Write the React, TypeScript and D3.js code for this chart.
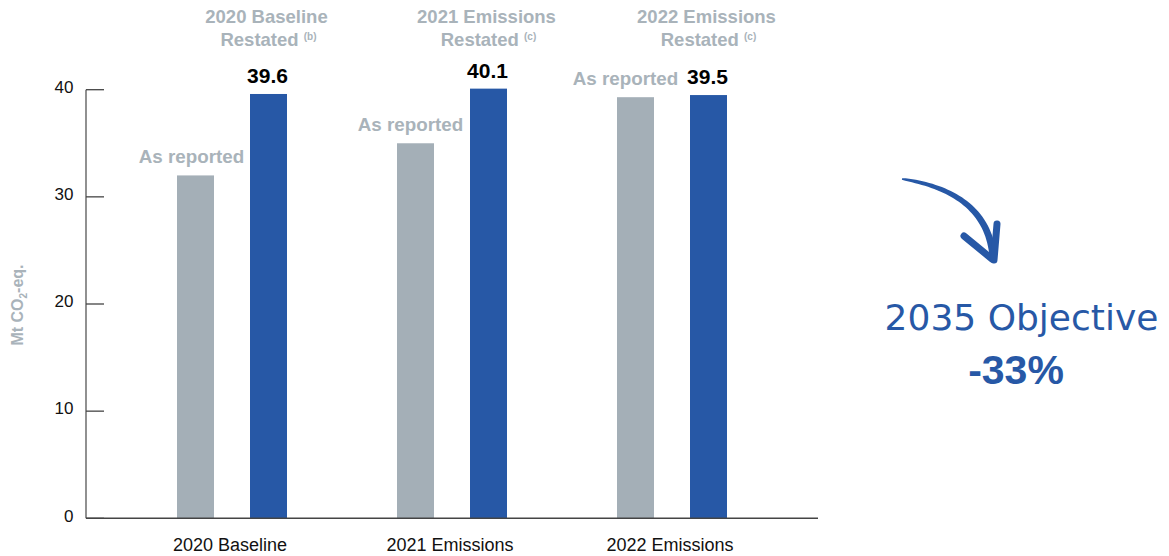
import React from "react";
import * as d3 from "d3";

const categories = ["2020 Baseline", "2021 Emissions", "2022 Emissions"];
const asReported = [32.0, 35.0, 39.3];
const restated = [39.6, 40.1, 39.5];
const headerLine1 = ["2020 Baseline", "2021 Emissions", "2022 Emissions"];
const headerNotes = ["(b)", "(c)", "(c)"];
const yTicks = [0, 10, 20, 30, 40];
const reportedLabel = "As reported";
const objectiveTitle = "2035 Objective";
const objectiveValue = "-33%";

const W = 1169;
const H = 556;
const GRAY = "#a4afb7";
const BLUE = "#2758a6";
const LABEL_GRAY = "#a9b3ba";
const FONT = "'Liberation Sans', Arial, sans-serif";
const labelNudge = [-4, -5, -10];

export default function App() {
  const y = d3.scaleLinear().domain([0, 40]).range([518.3, 89.7]);
  const x = d3.scaleBand<string>().domain(categories).range([122, 782]);
  const barW = 37;
  const off = 36.5;
  const axisX = 86;

  // arrow shaft as tapered shape
  const p0: [number, number] = [902, 179];
  const c1: [number, number] = [948, 186];
  const c2: [number, number] = [988, 206];
  const p3: [number, number] = [993, 256];
  const bez = (t: number) => {
    const mt = 1 - t;
    const px = mt * mt * mt * p0[0] + 3 * mt * mt * t * c1[0] + 3 * mt * t * t * c2[0] + t * t * t * p3[0];
    const py = mt * mt * mt * p0[1] + 3 * mt * mt * t * c1[1] + 3 * mt * t * t * c2[1] + t * t * t * p3[1];
    return [px, py];
  };
  const N = 40;
  const left: [number, number][] = [];
  const right: [number, number][] = [];
  for (let i = 0; i <= N; i++) {
    const t = i / N;
    const [px, py] = bez(t);
    const [ax, ay] = bez(Math.max(0, t - 0.01));
    const [bx, by] = bez(Math.min(1, t + 0.01));
    let dx = bx - ax, dy = by - ay;
    const len = Math.hypot(dx, dy) || 1;
    dx /= len; dy /= len;
    const w = 0.8 + 2.8 * Math.sqrt(t);
    left.push([px - dy * w, py + dx * w]);
    right.push([px + dy * w, py - dx * w]);
  }
  const shaft = d3.line()([...left, ...right.reverse()]) + "Z";

  return (
    <svg width={W} height={H} style={{ display: "block", position: "absolute", left: 0, top: 0 }}>
      <rect width={W} height={H} fill="#fff" />
      {/* y axis */}
      <line x1={axisX} x2={axisX} y1={y(40)} y2={y(0)} stroke="#555" strokeWidth={1.3} />
      {yTicks.map((t) => (
        <g key={t}>
          <line x1={axisX} x2={104} y1={y(t)} y2={y(t)} stroke="#444" strokeWidth={1.3} />
          <text x={73.5} y={y(t) + 3.2} textAnchor="end" fontFamily={FONT} fontSize={17} fill="#111">
            {t}
          </text>
        </g>
      ))}
      <text
        transform={`translate(23,305) rotate(-90)`}
        textAnchor="middle"
        fontFamily={FONT}
        fontSize={16}
        fontWeight="bold"
        fill={LABEL_GRAY}
      >
        Mt CO<tspan fontSize={10} dy={4}>2</tspan>
        <tspan dy={-4}>-eq.</tspan>
      </text>

      {/* bars */}
      {categories.map((c, i) => {
        const cx = (x(c) as number) + x.bandwidth() / 2;
        const gx = cx - off;
        const bx = cx + off;
        return (
          <g key={c}>
            <rect x={gx - barW / 2} y={y(asReported[i])} width={barW} height={y(0) - y(asReported[i])} fill={GRAY} />
            <rect x={bx - barW / 2} y={y(restated[i])} width={barW} height={y(0) - y(restated[i])} fill={BLUE} />
            <text
              x={gx + labelNudge[i]}
              y={y(asReported[i]) - 12.5}
              textAnchor="middle"
              fontFamily={FONT}
              fontSize={18.8}
              fontWeight="bold"
              fill={LABEL_GRAY}
            >
              {reportedLabel}
            </text>
            <text
              x={bx - 1}
              y={y(restated[i]) - 11}
              textAnchor="middle"
              fontFamily={FONT}
              fontSize={21}
              fontWeight="bold"
              fill="#000"
            >
              {restated[i].toFixed(1)}
            </text>
            <text x={bx - 2} y={23} textAnchor="middle" fontFamily={FONT} fontSize={18.5} fontWeight="bold" fill={LABEL_GRAY}>
              {headerLine1[i]}
            </text>
            <text x={bx} y={45.5} textAnchor="middle" fontFamily={FONT} fontSize={18.5} fontWeight="bold" fill={LABEL_GRAY}>
              {"Restated "}
              <tspan fontSize={10} dy={-6}>
                {headerNotes[i]}
              </tspan>
            </text>
            <text x={cx - 2} y={551} textAnchor="middle" fontFamily={FONT} fontSize={18} fill="#111">
              {c}
            </text>
          </g>
        );
      })}

      {/* x axis */}
      <line x1={axisX} x2={818} y1={y(0)} y2={y(0)} stroke="#444" strokeWidth={1.5} />

      {/* arrow */}
      <path d={shaft} fill={BLUE} />
      <line x1={964} y1={236} x2={992} y2={259} stroke={BLUE} strokeWidth={7} strokeLinecap="round" />
      <line x1={997} y1={224} x2={994} y2={260} stroke={BLUE} strokeWidth={7} strokeLinecap="round" />

      <text x={1021.5} y={330} textAnchor="middle" fontFamily="'DejaVu Sans', sans-serif" fontSize={36} fill={BLUE}>
        {objectiveTitle}
      </text>
      <text x={1016} y={384} textAnchor="middle" fontFamily={FONT} fontSize={41} fontWeight="bold" fill={BLUE}>
        {objectiveValue}
      </text>
    </svg>
  );
}
